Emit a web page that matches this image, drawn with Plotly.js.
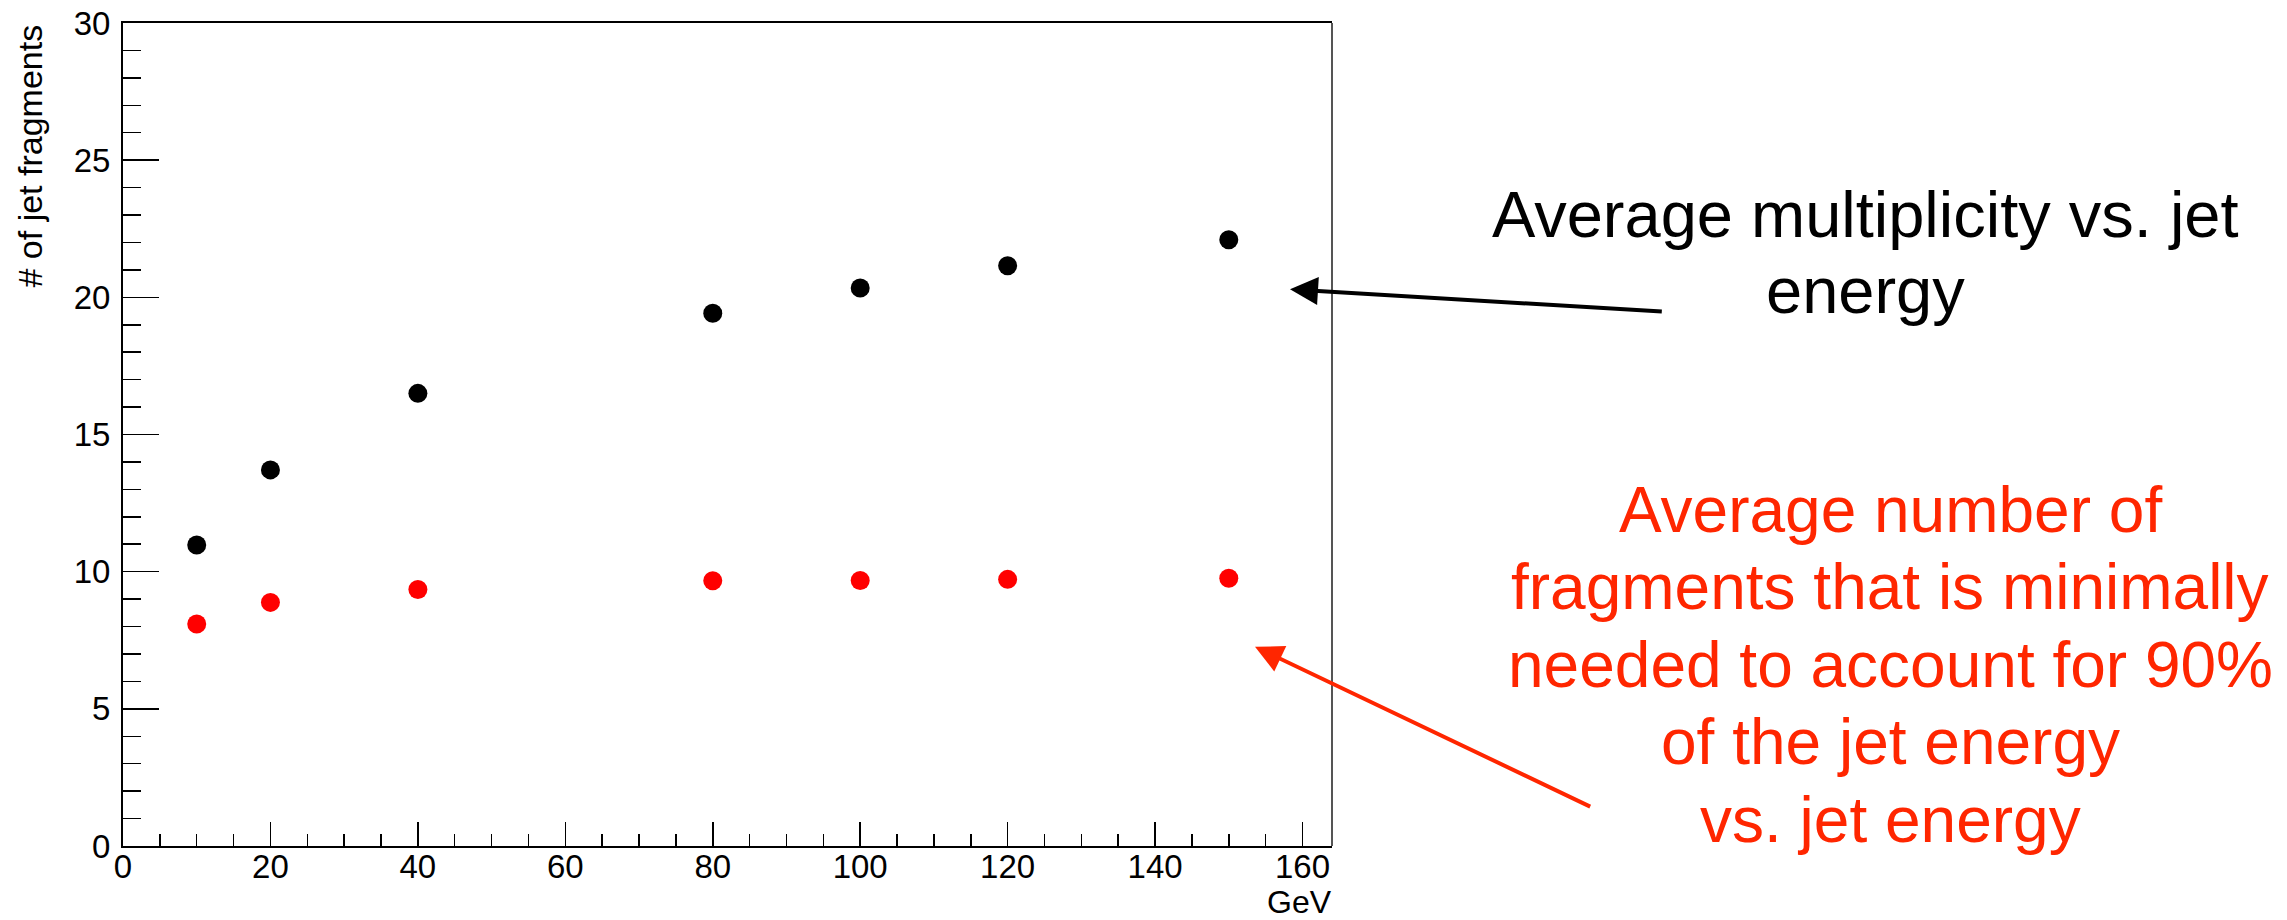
<!DOCTYPE html>
<html>
<head>
<meta charset="utf-8">
<script src="https://cdn.plot.ly/plotly-3.0.1.min.js"></script>
<style>
  html, body { margin: 0; padding: 0; background: #ffffff; }
  #chart { width: 2287px; height: 920px; }
</style>
</head>
<body>
<div id="chart"></div>
<script>
// Jet energy (GeV)
const energies = [10, 20, 40, 80, 100, 120, 150];
// Average number of jet fragments (multiplicity)
const multiplicity = [10.97, 13.71, 16.50, 19.42, 20.34, 21.15, 22.10];
// Average number of fragments needed for 90% of the jet energy
const fragments90 = [8.09, 8.88, 9.35, 9.67, 9.68, 9.72, 9.76];

const xTitle = 'GeV';
const yTitle = '# of jet fragments';
const blackNote = ['Average multiplicity vs. jet', 'energy'];
const redNote = ['Average number of', 'fragments that is minimally',
                 'needed to account for 90%', 'of the jet energy', 'vs. jet energy'];

const W = 2287, H = 920;
const M = { l: 123, r: 955, t: 23, b: 74 };
const PW = W - M.l - M.r, PH = H - M.t - M.b;
// pixel -> paper coordinates
const px = v => (v - M.l) / PW;
const py = v => (H - M.b - v) / PH;

const FONT = 'Liberation Sans, Arial, Helvetica, sans-serif';
const RED_TEXT = '#ff2600';

const traces = [
  {
    type: 'scatter', mode: 'markers', x: energies, y: multiplicity,
    marker: { symbol: 'circle', size: 19, color: '#000000', line: { width: 0 } },
    showlegend: false, hoverinfo: 'x+y'
  },
  {
    type: 'scatter', mode: 'markers', x: energies, y: fragments90,
    marker: { symbol: 'circle', size: 19, color: '#ff0000', line: { width: 0 } },
    showlegend: false, hoverinfo: 'x+y'
  }
];

const annotations = [];

// y-axis title, aligned to the top end of the axis
annotations.push({
  xref: 'paper', yref: 'paper', x: px(29), y: py(23),
  xanchor: 'center', yanchor: 'top', textangle: -90, showarrow: false,
  text: yTitle, font: { family: FONT, size: 34, color: '#000' }
});
// x-axis title, right aligned under the axis end
annotations.push({
  xref: 'paper', yref: 'paper', x: px(1333), y: py(902),
  xanchor: 'right', yanchor: 'middle', showarrow: false, borderpad: 0,
  text: xTitle, font: { family: FONT, size: 32, color: '#000' }
});

// black caption, one annotation per line
const blackBase = [236.7, 313.3];
blackNote.forEach((t, i) => annotations.push({
  xref: 'paper', yref: 'paper', x: px(1865), y: py(blackBase[i] - 22.5),
  xanchor: 'center', yanchor: 'middle', showarrow: false,
  text: t, font: { family: FONT, size: 65, color: '#000' }
}));

// red caption
const redBase = [531.7, 609, 686.7, 764.3, 841.7];
redNote.forEach((t, i) => annotations.push({
  xref: 'paper', yref: 'paper', x: px(1890), y: py(redBase[i] - 22.2),
  xanchor: 'center', yanchor: 'middle', showarrow: false,
  text: t, font: { family: FONT, size: 64, color: RED_TEXT }
}));

// arrows from the captions to the point series
annotations.push({
  xref: 'paper', yref: 'paper', x: px(1290), y: py(289.3),
  axref: 'pixel', ayref: 'pixel', ax: 1663.3 - 1290, ay: 311.7 - 289.3,
  text: '', showarrow: true, arrowhead: 2, arrowsize: 1.4, arrowwidth: 4,
  arrowcolor: '#000', standoff: 0, startstandoff: 0
});
annotations.push({
  xref: 'paper', yref: 'paper', x: px(1255), y: py(646.7),
  axref: 'pixel', ayref: 'pixel', ax: 1591.7 - 1255, ay: 807.3 - 646.7,
  text: '', showarrow: true, arrowhead: 2, arrowsize: 1.4, arrowwidth: 4,
  arrowcolor: RED_TEXT, standoff: 0, startstandoff: 0
});

const layout = {
  width: W, height: H,
  margin: M,
  paper_bgcolor: '#ffffff', plot_bgcolor: '#ffffff',
  font: { family: FONT, color: '#000' },
  showlegend: false,
  xaxis: {
    range: [0, 164], tick0: 0, dtick: 20,
    ticks: 'inside', ticklen: 24, tickwidth: 1.5, tickcolor: '#000',
    minor: { dtick: 5, ticks: 'inside', ticklen: 12, tickwidth: 1.5, tickcolor: '#000', showgrid: false },
    showline: true, linewidth: 2, linecolor: '#000', mirror: true,
    showgrid: false, zeroline: false,
    tickfont: { family: FONT, size: 33, color: '#000' },
    ticklabelstandoff: -10
  },
  yaxis: {
    range: [0, 30], tick0: 0, dtick: 5,
    ticks: 'inside', ticklen: 36, tickwidth: 1.5, tickcolor: '#000',
    minor: { dtick: 1, ticks: 'inside', ticklen: 18, tickwidth: 1.5, tickcolor: '#000', showgrid: false },
    showline: true, linewidth: 2, linecolor: '#000', mirror: false,
    showgrid: false, zeroline: false,
    tickfont: { family: FONT, size: 33, color: '#000' },
    ticklabelstandoff: 4
  },
  shapes: [
    { type: 'line', xref: 'paper', yref: 'paper', x0: 1, x1: 1, y0: 0, y1: 1,
      line: { color: '#555555', width: 2 } }
  ],
  annotations: annotations
};

Plotly.newPlot('chart', traces, layout, { staticPlot: true, displayModeBar: false });
</script>
</body>
</html>
